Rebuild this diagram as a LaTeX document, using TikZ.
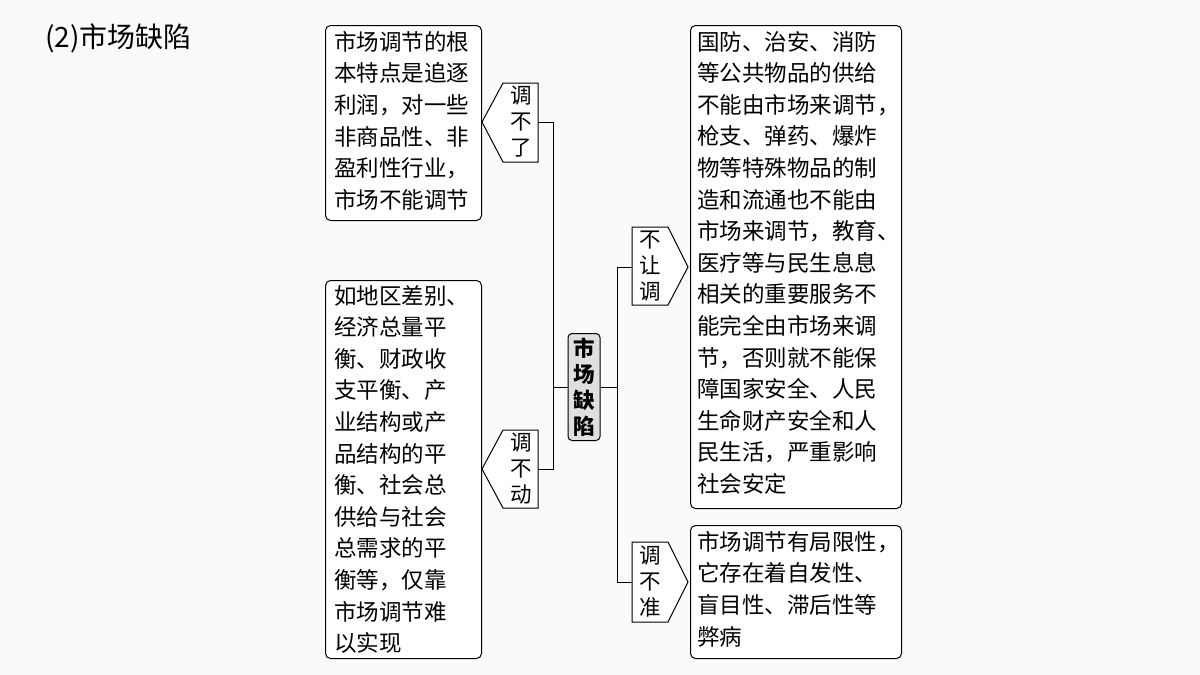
\documentclass[tikz,border=0pt]{standalone}
\usepackage{fontspec}
\setmainfont{Noto Sans CJK SC}
\usetikzlibrary{calc}
\begin{document}
\begin{tikzpicture}[x=1pt,y=-1pt,
 box/.style={draw,line width=1pt,rounded corners=5pt,fill=white},
 txt/.style={anchor=north west,align=left,inner sep=0pt,font=\fontsize{22.5}{31.6}\selectfont},
 lab/.style={align=center,inner sep=0pt,font=\fontsize{21.5}{26}\selectfont},
 pent/.style={draw,line width=1pt,fill=white},
 con/.style={line width=1pt}]
\fill[white!96!gray] (0,0) rectangle (1200,675);
\useasboundingbox (0,0) rectangle (1200,675);
\node[anchor=west,inner sep=0pt,font=\fontsize{28}{30}\selectfont] (title) at (45,38) {(2)市场缺陷};
% boxes
\node[box,minimum width=156,minimum height=195,anchor=north west] (A) at (325,25) {};
\node[txt] (At) at (334,31) {市场调节的根\\本特点是追逐\\利润，对一些\\非商品性、非\\盈利性行业，\\市场不能调节};
\node[box,minimum width=156,minimum height=378,anchor=north west] (B) at (325,280) {};
\node[txt] (Bt) at (334,285) {如地区差别、\\经济总量平\\衡、财政收\\支平衡、产\\业结构或产\\品结构的平\\衡、社会总\\供给与社会\\总需求的平\\衡等，仅靠\\市场调节难\\以实现};
\node[box,minimum width=211,minimum height=483,anchor=north west] (C) at (690,25) {};
\node[txt] (Ct) at (697,31) {国防、治安、消防\\等公共物品的供给\\不能由市场来调节，\\枪支、弹药、爆炸\\物等特殊物品的制\\造和流通也不能由\\市场来调节，教育、\\医疗等与民生息息\\相关的重要服务不\\能完全由市场来调\\节，否则就不能保\\障国家安全、人民\\生命财产安全和人\\民生活，严重影响\\社会安定};
\node[box,minimum width=211,minimum height=133,anchor=north west] (D) at (690,525) {};
\node[txt] (Dt) at (697,531) {市场调节有局限性，\\它存在着自发性、\\盲目性、滞后性等\\弊病};
% center
\node[draw,line width=1pt,rounded corners=4pt,fill=gray!25,minimum width=32,minimum height=107,inner sep=0pt,align=center,font=\fontsize{21.5}{26}\selectfont\bfseries] (M) at (584,387) {市\\场\\缺\\陷};
% pentagons (left-pointing)
\draw[pent] (482,122) -- (503,83) -- (538,83) -- (538,162) -- (503,162) -- cycle;
\node[lab] (L1) at (521,122) {调\\不\\了};
\coordinate (L1r) at (538,122);
\draw[pent] (482,469) -- (503,430) -- (538,430) -- (538,508) -- (503,508) -- cycle;
\node[lab] (L2) at (521,469) {调\\不\\动};
\coordinate (L2r) at (538,469);
% right-pointing
\draw[pent] (688,267) -- (668,227) -- (632,227) -- (632,305) -- (668,305) -- cycle;
\node[lab] (R1) at (650,266) {不\\让\\调};
\coordinate (R1l) at (632,267);
\draw[pent] (688,582) -- (668,542) -- (632,542) -- (632,622) -- (668,622) -- cycle;
\node[lab] (R2) at (650,582) {调\\不\\准};
\coordinate (R2l) at (632,582);
% connectors
\draw[con] (L1r) -- (553,122) |- (L2r);
\draw[con] (M.west) -- (553,387);
\draw[con] (M.east) -- (617,387);
\draw[con] (R1l) -- (617,267) |- (R2l);
\end{tikzpicture}
\end{document}
